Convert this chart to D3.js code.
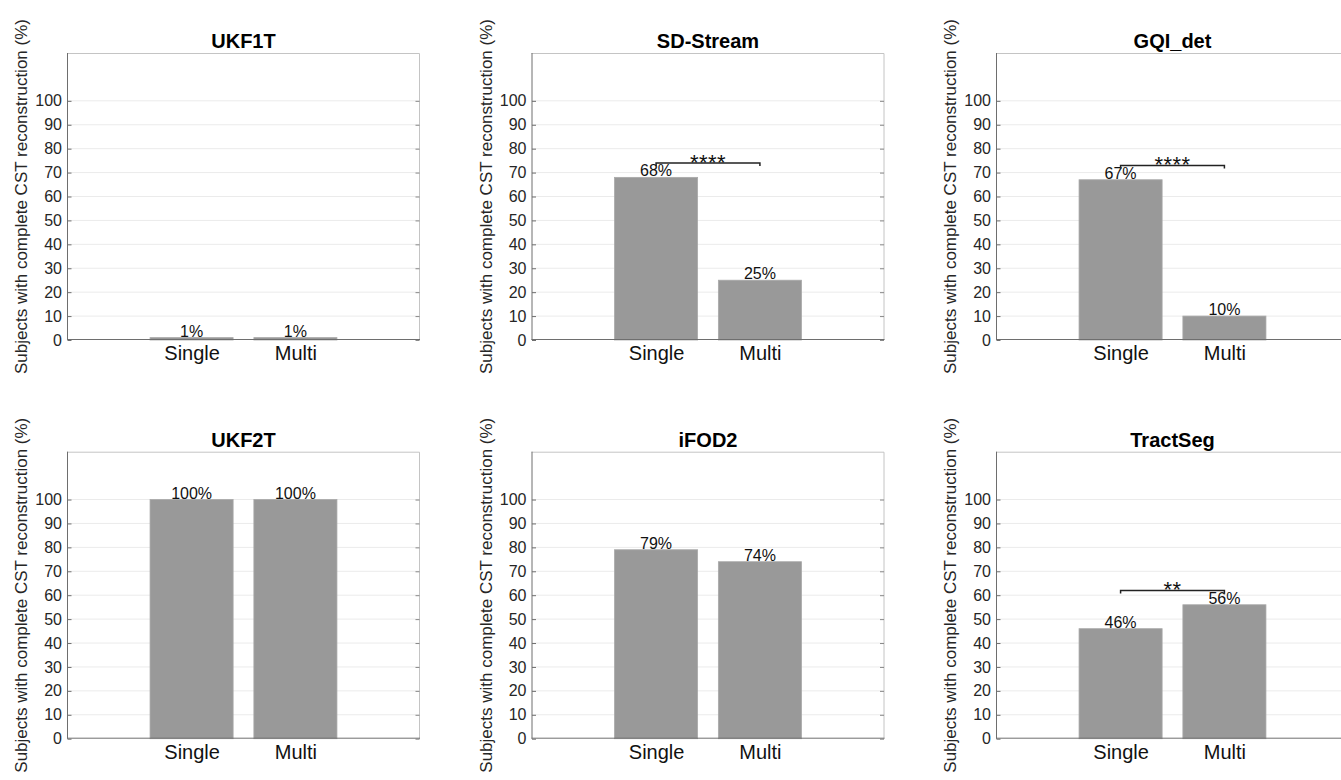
<!DOCTYPE html>
<html>
<head>
<meta charset="utf-8">
<script src="https://cdn.jsdelivr.net/npm/d3@7"></script>
<style>
  html, body { margin: 0; padding: 0; background: #ffffff; }
  svg { display: block; }
  text { font-family: "Liberation Sans", Arial, Helvetica, sans-serif; }
</style>
</head>
<body>
<svg id="chart" width="1341" height="780"></svg>
<script>
// Tractography methods, one panel each (row-major, 3 per row)
const methods = ["UKF1T", "SD-Stream", "GQI_det", "UKF2T", "iFOD2", "TractSeg"];
const categories = ["Single", "Multi"];
// Percentage of subjects with complete CST reconstruction
const singleValues = [1, 68, 67, 100, 79, 46];
const multiValues = [1, 25, 10, 100, 74, 56];
// Significance markers between Single and Multi ("" = none drawn)
const significance = ["", "****", "****", "", "", "**"];
const yTicks = [0, 10, 20, 30, 40, 50, 60, 70, 80, 90, 100];
const yLabel = "Subjects with complete CST reconstruction (%)";

// Panel layout
const colLeft = [67, 531.5, 996];
const rowTop = [53, 451.7];
const boxW = 353, boxH = 287;

const svg = d3.select("#chart");

const x = d3.scaleLinear().domain([-0.2, 3.2]).range([0, boxW]);
const y = d3.scaleLinear().domain([0, 120]).range([boxH, 0]);
const barW = x(0.8) - x(0);

methods.forEach((name, i) => {
  const left = colLeft[i % 3];
  const top = rowTop[Math.floor(i / 3)];
  const g = svg.append("g").attr("transform", `translate(${left},${top})`);
  const values = [singleValues[i], multiValues[i]];

  // grid lines
  g.append("g").selectAll("line").data(yTicks.filter(t => t > 0)).join("line")
    .attr("x1", 0).attr("x2", boxW)
    .attr("y1", d => y(d)).attr("y2", d => y(d))
    .attr("stroke", "#ebebeb").attr("stroke-width", 1);

  // top / right frame
  g.append("path")
    .attr("d", `M0,0.5H${boxW - 0.5}V${boxH}`)
    .attr("fill", "none").attr("stroke", "#c4c4c4").attr("stroke-width", 1);

  // right-side inward ticks
  const rightAxis = d3.axisRight(y).tickValues(yTicks).tickSize(-4).tickFormat("");
  g.append("g").attr("transform", `translate(${boxW - 0.5},0)`).call(rightAxis)
    .call(s => s.select(".domain").remove())
    .call(s => s.selectAll(".tick line").attr("stroke", "#888"));

  // bars
  g.append("g").selectAll("rect").data(values).join("rect")
    .attr("x", (d, j) => x(j + 1) - barW / 2)
    .attr("width", barW)
    .attr("y", d => y(d))
    .attr("height", d => y(0) - y(d))
    .attr("fill", "#999999")
    .attr("stroke", "#a9a9a9").attr("stroke-width", 0.8);

  // value labels
  g.append("g").selectAll("text").data(values).join("text")
    .attr("x", (d, j) => x(j + 1))
    .attr("y", d => y(d) - 1)
    .attr("text-anchor", "middle")
    .attr("font-size", 16)
    .attr("fill", "#111")
    .text(d => d + "%");

  // left axis
  const leftAxis = d3.axisLeft(y).tickValues(yTicks).tickSizeInner(-4).tickSizeOuter(0).tickPadding(5.5);
  g.append("g").attr("transform", "translate(0.5,0)").call(leftAxis)
    .call(s => s.select(".domain").attr("stroke", "#6e6e6e").attr("d", `M0,0V${boxH}`))
    .call(s => s.selectAll(".tick line").attr("stroke", "#6e6e6e"))
    .call(s => s.selectAll(".tick text").attr("font-size", 16).attr("fill", "#262626")
      .attr("font-family", "Liberation Sans, Arial, sans-serif"));

  // bottom axis
  const bottomAxis = d3.axisBottom(x).tickValues([1, 2]).tickFormat((d) => categories[d - 1])
    .tickSizeInner(0).tickSizeOuter(0);
  g.append("g").attr("transform", `translate(0,${boxH - 0.5})`).call(bottomAxis)
    .call(s => s.select(".domain").attr("stroke", "#6e6e6e").attr("d", `M0,0H${boxW}`))
    .call(s => s.selectAll(".tick text").attr("font-size", 20).attr("fill", "#111")
      .attr("font-family", "Liberation Sans, Arial, sans-serif")
      .attr("y", 20.5).attr("dy", null));

  // title
  g.append("text")
    .attr("x", boxW / 2).attr("y", -5)
    .attr("text-anchor", "middle")
    .attr("font-size", 20).attr("font-weight", "bold").attr("fill", "#000")
    .text(name);

  // y-axis label
  g.append("text")
    .attr("transform", `translate(-40,${boxH / 2}) rotate(-90)`)
    .attr("text-anchor", "middle")
    .attr("font-size", 17).attr("fill", "#262626")
    .text(yLabel);

  // significance bracket
  if (significance[i]) {
    const by = y(d3.max(values) + 6);
    const x1 = x(1), x2 = x(2);
    g.append("path")
      .attr("d", `M${x1},${by + 3}V${by}H${x2}V${by + 3}`)
      .attr("fill", "none").attr("stroke", "#222").attr("stroke-width", 1.5);
    g.append("text")
      .attr("x", (x1 + x2) / 2).attr("y", by + 6.5)
      .attr("text-anchor", "middle")
      .attr("font-size", 22).attr("letter-spacing", 0.5)
      .attr("fill", "#111")
      .text(significance[i]);
  }
});
</script>
</body>
</html>
